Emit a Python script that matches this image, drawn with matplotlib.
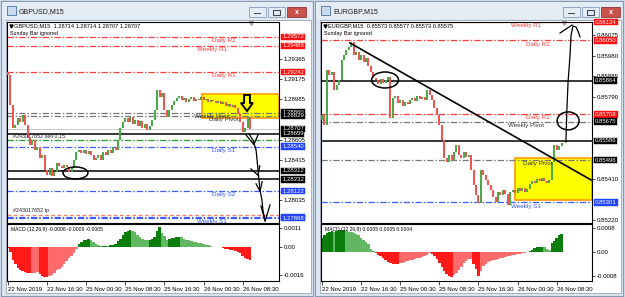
import numpy as np
import matplotlib
matplotlib.use("Agg")
import matplotlib.pyplot as plt
from matplotlib.patches import Rectangle, Ellipse, Polygon

plt.rcParams['font.family'] = ['Liberation Sans', 'DejaVu Sans']

W, H = 625, 297

# ---------------- GBPUSD, M15 ----------------
gu_open0 = 1.29243
gu_close = [1.29214, 1.28932, 1.28716, 1.28744, 1.28810, 1.28772, 1.28838, 1.28744, 1.28621, 1.28556,
            1.28603, 1.28509, 1.28537, 1.28433, 1.28461, 1.28320, 1.28273, 1.28339, 1.28264, 1.28302,
            1.28386, 1.28358, 1.28339, 1.28367, 1.28349, 1.28302, 1.28339, 1.28414, 1.28490, 1.28509,
            1.28480, 1.28509, 1.28471, 1.28499, 1.28461, 1.28414, 1.28433, 1.28461, 1.28414, 1.28490,
            1.28461, 1.28509, 1.28480, 1.28537, 1.28509, 1.28603, 1.28716, 1.28772, 1.28810, 1.28772,
            1.28819, 1.28753, 1.28791, 1.28734, 1.28781, 1.28716, 1.28753, 1.28697, 1.28734, 1.28791,
            1.28885, 1.29073, 1.29007, 1.29045, 1.28885, 1.28819, 1.28885, 1.28932, 1.28970, 1.28998,
            1.29017, 1.28979, 1.28998, 1.28960, 1.28988, 1.29007, 1.28970, 1.28988, 1.28979, 1.29007,
            1.28979, 1.28988, 1.28960, 1.28979, 1.28970, 1.28951, 1.28970, 1.28941, 1.28960, 1.28923,
            1.28941, 1.28913, 1.28932, 1.28904, 1.28847, 1.28772, 1.28678, 1.28716, 1.28819, 1.28707]
# MACD histogram, units of 1e-4
gu_macd = [-0.5, -3, -7.5, -10, -12.2, -13.2, -14, -14.5, -14.8, -15.1,
           -15, -14.8, -14.5, -15.5, -16.8, -17.4, -17.4, -17, -16, -14.8,
           -13.5, -12.5, -11.5, -10, -8, -6.5, -5, -3.5, -1, 1.5,
           3, 3.8, 4.3, 4.6, 4.2, 3, 2, 1.2, 0.6, 0.6,
           0.8, 0.6, 0.9, 1.2, 2, 3.5, 4.5, 7, 8.7, 9.5,
           9.8, 9.2, 8.5, 7, 5.8, 4.8, 4.2, 4.1, 4.1, 4.5,
           5.8, 9, 11.6, 8, 6.5, 4.2, 4.5, 5, 5.3, 5.6,
           5.8, 5.5, 4.8, 4.2, 3.8, 3.2, 2.9, 2.6, 2.4, 2.2,
           1.8, 1.3, 1.0, 0.6, 0.2, -0.2, -0.3, -0.2, -0.6, -1.0,
           -1.3, -1.5, -1.7, -2.2, -3.0, -3.5, -5, -6.4, -7, -7.5]
# (price, kind, label, has price tag)
gu_levels = [(1.29572, 'red', 'Daily R2', True),
             (1.29488, 'red', 'Weekly R1', True),
             (1.29242, 'red', 'Daily R1', True),
             (1.28860, 'pivot', 'Weekly Pivot', True),
             (1.28829, 'pivot', 'Daily Pivot', True),
             (1.28707, 'bid', '', True),
             (1.28659, 'black', '', True),
             (1.28603, 'order', '', False),
             (1.28540, 'blue', 'Daily S1', True),
             (1.28312, 'black', '', True),
             (1.28232, 'black', '', True),
             (1.28122, 'blue', 'Daily S2', True),
             (1.27900, 'tp', '', False),
             (1.27877, 'blue', '', True),
             (1.27868, 'blue', 'Weekly S1', True)]
gu_ticks = [1.29365, 1.29175, 1.28985, 1.28605, 1.28415, 1.28035]
gu_ylim = (1.27821, 1.29713)
gu_macd_ticks = [0.0011, 0.0, -0.0016]
gu_macd_ticklabels = ['0.0011', '0.00', '-0.0016']
gu_macd_ylim = (-0.00197, 0.00133)
gu_box = (79.4, 1.28810, 1.29035)          # start bar, low, high
gu_ellipses = [(27.6, 1.28292, 10.2, 0.00113)]
gu_arrow = [(96.6, 1.29026), (99.0, 1.29026), (99.0, 1.28951), (100.2, 1.28951),
            (97.8, 1.28875), (95.3, 1.28951), (96.6, 1.28951)]
gu_curve_x = [98.6, 100.2, 101.5, 101.9, 102.3, 102.7, 103.1, 103.9, 104.3, 105.2]
gu_curve_p = [1.28659, 1.28603, 1.28509, 1.28414, 1.28320, 1.28226, 1.28132, 1.28038, 1.27944, 1.27840]
gu_strokes = [[(97.4, 1.28650), (100.6, 1.28560), (102.3, 1.28650)],
              [(99.4, 1.28330), (102.3, 1.28270), (103.0, 1.28360)],
              [(101.5, 1.28190), (103.1, 1.28120), (104.0, 1.28210)],
              [(103.5, 1.27982), (105.2, 1.27840), (107.2, 1.27991)]]
gu_texts = [(1.28603, '#243017652 sell 0.15'), (1.27900, '#243017652 tp')]

# ---------------- EURGBP, M15 ----------------
eg_open0 = 0.85682
eg_close = [0.85705, 0.85659, 0.85913, 0.85890, 0.85904, 0.85821, 0.85844, 0.85867, 0.85960, 0.85983,
            0.86006, 0.86020, 0.86043, 0.85983, 0.85997, 0.85960, 0.85983, 0.85950, 0.85969, 0.85932,
            0.85904, 0.85876, 0.85867, 0.85849, 0.85872, 0.85853, 0.85867, 0.85881, 0.85692, 0.85784,
            0.85793, 0.85761, 0.85775, 0.85747, 0.85765, 0.85756, 0.85775, 0.85784, 0.85770, 0.85793,
            0.85779, 0.85789, 0.85775, 0.85821, 0.85798, 0.85775, 0.85738, 0.85705, 0.85659, 0.85590,
            0.85507, 0.85488, 0.85521, 0.85498, 0.85534, 0.85567, 0.85521, 0.85507, 0.85534, 0.85511,
            0.85521, 0.85451, 0.85382, 0.85336, 0.85299, 0.85451, 0.85428, 0.85405, 0.85382, 0.85359,
            0.85327, 0.85303, 0.85350, 0.85336, 0.85359, 0.85340, 0.85290, 0.85350, 0.85359, 0.85345,
            0.85368, 0.85354, 0.85368, 0.85350, 0.85364, 0.85387, 0.85400, 0.85391, 0.85410, 0.85400,
            0.85414, 0.85400, 0.85391, 0.85405, 0.85488, 0.85567, 0.85544, 0.85562, 0.85575]
eg_macd = [4.5, 5.5, 6.3, 6.7, 7.0, 6.8, 7.0, 7.2, 7.3, 7.3,
           7.1, 6.8, 6.5, 6.3, 6.0, 5.5, 4.7, 4.0, 3.3, 2.5,
           1.0, 0.2, -0.3, -1.0, -1.5, -2.0, -2.8, -3.5, -3.8, -4.0,
           -4.0, -4.0, -3.8, -3.7, -3.4, -3.1, -2.8, -2.7, -2.4, -2.1,
           -1.9, -1.7, -1.4, -1.0, -0.4, -0.6, -1.2, -2.5, -3.7, -5.0,
           -6.3, -7.3, -8.0, -8.3, -7.7, -7.0, -6.1, -5.0, -3.8, -3.0,
           -2.5, -2.2, -4.0, -5.8, -8.0, -6.5, -4.8, -4.0, -3.4, -3.0,
           -2.8, -2.6, -2.3, -2.1, -1.9, -1.7, -1.5, -1.2, -1.0, -0.9,
           -0.8, -0.7, -0.4, -0.2, 0.1, 0.4, 0.8, 1.2, 1.5, 1.7,
           1.7, 1.6, 1.0, 0.7, 3.0, 3.8, 4.7, 5.5, 6.0]
eg_levels = [(0.86134, 'red', 'Weekly R1', True),
             (0.86050, 'red', 'Daily R2', True),
             (0.85864, 'black', '', True),
             (0.85708, 'red', 'Daily R1', True),
             (0.85675, 'pivot', 'Weekly Pivot', True),
             (0.85586, 'black', '', True),
             (0.85496, 'pivot', 'Daily Pivot', True),
             (0.85301, 'blue', 'Weekly S1', True)]
eg_ticks = [0.86075, 0.85980, 0.85885, 0.85790, 0.85410, 0.85220]
eg_ylim = (0.85206, 0.86135)
eg_macd_ticks = [0.0008, 0.0, -0.0008]
eg_macd_ticklabels = ['0.0008', '0.00', '-0.0008']
eg_macd_ylim = (-0.000967, 0.000933)
eg_box = (79.0, 0.85313, 0.85507)
eg_ellipses = [(25.8, 0.85867, 11.0, 0.00074), (100.7, 0.85678, 9.0, 0.00083)]
eg_trend = [(11.46, 0.86038), (110.1, 0.85405)]
eg_curve_x = [99.8, 100.2, 100.7, 101.5, 101.9, 102.7, 103.9, 104.7, 105.6]
eg_curve_p = [0.85581, 0.85729, 0.85862, 0.85983, 0.86075, 0.86117, 0.86112, 0.86094, 0.86066]
eg_strokes = [[(97.4, 0.86084), (102.3, 0.86121)]]

time_ticks = [0, 16, 32, 48, 64, 80, 96]
time_labels = ['22 Nov 2019', '22 Nov 16:30', '25 Nov 00:30', '25 Nov 08:30',
               '25 Nov 16:30', '26 Nov 00:30', '26 Nov 08:30']
# weekly / daily label anchor bars
label_x = {'Weekly': 83.5, 'Daily': 88.4}

DD = (0, (5, 1.6, 1.2, 1.6))
styles = {'red': dict(color='#ff3b3b', ls=DD, lw=0.9),
          'pivot': dict(color='#777777', ls=DD, lw=0.9),
          'blue': dict(color='#3d5cff', ls=DD, lw=0.9),
          'black': dict(color='black', ls='-', lw=1.1),
          'order': dict(color='#22a022', ls=DD, lw=0.9),
          'tp': dict(color='#ff7a5a', ls=(0, (3, 2)), lw=0.9),
          'bid': dict(color='#c8c8c8', ls='-', lw=0.7)}
text_col = {'red': '#ff3b3b', 'pivot': '#333333', 'blue': '#3355ee'}
tag_col = {'red': '#ff1010', 'pivot': '#000000', 'black': '#000000', 'bid': '#000000', 'blue': '#2244ff'}

fig = plt.figure(figsize=(W / 100, H / 100), dpi=100)


def px_axes(x0, y0, x1, y1, z):
    return fig.add_axes([x0 / W, 1 - y1 / H, (x1 - x0) / W, (y1 - y0) / H], zorder=z)


bg = px_axes(0, 0, W, H, 0)
bg.set_xlim(0, W); bg.set_ylim(H, 0); bg.axis('off')
fg = px_axes(0, 0, W, H, 10)
fg.set_xlim(0, W); fg.set_ylim(H, 0); fg.axis('off')
bg.add_patch(Rectangle((0, 0), W, H, fc='#cfdcec', ec='none'))


def window(x0, x1, btn_r, title, head, macd_head):
    bg.add_patch(Rectangle((x0, 1), x1 - x0, 295, fc='#dce6f2', ec='#8799b3', lw=0.8))
    bg.add_patch(Rectangle((x0 + 1, 2), x1 - x0 - 2, 17, fc='#e4ecf6', ec='none'))
    bg.add_patch(Rectangle((x0 + 6, 6), 9, 9, fc='#c9daf0', ec='#5b7fae', lw=0.7))
    bg.text(x0 + 18, 12, title, fontsize=5.0, va='center', ha='left', color='#1e1e1e')
    bg.add_patch(Rectangle((btn_r - 19, 7), 19, 10, fc='#c8534c', ec='#8e3a36', lw=0.6))
    bg.text(btn_r - 9.5, 12, 'x', fontsize=5, color='white', ha='center', va='center', weight='bold')
    for bx in (btn_r - 38, btn_r - 57):
        bg.add_patch(Rectangle((bx, 7), 17, 10, fc='#e3ebf5', ec='#8a9bb5', lw=0.6))
    bg.add_patch(Rectangle((btn_r - 52, 12.5), 7, 1.5, fc='#404a58', ec='none'))
    bg.add_patch(Rectangle((btn_r - 33, 10), 7, 5, fc='none', ec='#404a58', lw=0.8))
    bg.add_patch(Rectangle((x0 + 5, 20), x1 - x0 - 7, 273, fc='white', ec='#9aa5b3', lw=0.6))
    fg.plot(x0 + 9.5, 25.5, marker='v', ms=2.2, color='black')
    fg.text(x0 + 13, 25.5, head, fontsize=4.1, va='center', ha='left')
    fg.text(x0 + 9, 33.5, 'Sunday Bar ignored', fontsize=3.9, va='center', ha='left')
    fg.text(x0 + 10, 229, macd_head, fontsize=3.6, va='center', ha='left')


def macd_colors(vals):
    cols = []
    prev = vals[0]
    for v in vals:
        if v >= 0:
            cols.append('#0a7d0a' if v >= prev else '#62b862')
        else:
            cols.append('#ff1a1a' if v <= prev else '#ff6a6a')
        prev = v
    return cols


def chart(x0, x1, open0, closes, macd, levels, ticks, ylim, mticks, mlabels, mylim, box):
    ax = px_axes(x0, 22, x1, 223, 2)
    mx = px_axes(x0, 224, x1, 281, 2)
    xl = (-1 / 2.444, (x1 - x0 - 1) / 2.444)
    for a in (ax, mx):
        a.set_facecolor('none')
        a.set_xlim(*xl)
        for s in a.spines.values():
            s.set_linewidth(0.8)
            s.set_color('black')
        a.yaxis.tick_right()
        a.tick_params(axis='y', length=2, width=0.5, pad=1.5, labelsize=4.4)
    ax.set_ylim(*ylim)
    ax.set_xticks([])
    ax.set_yticks(ticks)
    ax.set_yticklabels(['%.5f' % t for t in ticks])

    # yellow zone
    ax.add_patch(Rectangle((box[0], box[1]), xl[1] - box[0], box[2] - box[1],
                           fc='#ffff00', ec='#ff9a00', lw=1.2, zorder=1))
    for p, kind, lab, tag in levels:
        ax.axhline(p, zorder=2, **styles[kind])
        if lab:
            ax.annotate(lab, (label_x[lab.split()[0]], p), xytext=(0, -0.8),
                        textcoords='offset points', ha='center', va='top',
                        fontsize=4.5, color=text_col[kind], zorder=6)
        if tag:
            ax.annotate('%.5f' % p, (1, p), xycoords=('axes fraction', 'data'),
                        xytext=(2.2, 0), textcoords='offset points', ha='left', va='center',
                        fontsize=4.3, color='white', annotation_clip=False, zorder=8,
                        bbox=dict(boxstyle='square,pad=0.12', fc=tag_col[kind], ec=tag_col[kind], lw=0.3))
    # candles
    c = np.array(closes)
    o = np.r_[open0, c[:-1]]
    x = np.arange(len(c))
    up = c >= o
    ax.vlines(x[up], o[up], c[up], color='#45a845', lw=1.4, zorder=4)
    ax.vlines(x[~up], c[~up], o[~up], color='#f25050', lw=1.4, zorder=4)
    ax.plot(0.897, 0.993, marker='v', ms=3, color='#a8a8a8', transform=ax.transAxes, clip_on=False)

    mv = np.array(macd) * 1e-4
    mx.bar(np.arange(len(mv)), mv, width=1.0, color=macd_colors(list(mv)), linewidth=0)
    mx.set_ylim(*mylim)
    mx.set_yticks(mticks)
    mx.set_yticklabels(mlabels)
    mx.set_xticks(time_ticks)
    mx.set_xticklabels(time_labels, ha='left')
    mx.tick_params(axis='x', length=3, width=0.5, pad=1.5, labelsize=4.3)
    return ax, mx


window(1, 313, 306, 'GBPUSD,M15', 'GBPUSD,M15  1.28714 1.28714 1.28707 1.28707',
       'MACD (12,26,9) -0.0006 -0.0006 -0.0005')
window(315, 623, 620, 'EURGBP,M15', 'EURGBP,M15  0.85573 0.85577 0.85573 0.85575',
       'MACD (12,26,9) 0.0005 0.0005 0.0004')

ax1, m1 = chart(7, 279, gu_open0, gu_close, gu_macd, gu_levels, gu_ticks, gu_ylim,
                gu_macd_ticks, gu_macd_ticklabels, gu_macd_ylim, gu_box)
ax2, m2 = chart(321, 592, eg_open0, eg_close, eg_macd, eg_levels, eg_ticks, eg_ylim,
                eg_macd_ticks, eg_macd_ticklabels, eg_macd_ylim, eg_box)

# hand drawings, order texts
for p, s in gu_texts:
    ax1.annotate(s, (2, p), xytext=(0, 0.8), textcoords='offset points', ha='left', va='bottom',
                 fontsize=3.9, color='#222222', zorder=6)
for ax, ells in ((ax1, gu_ellipses), (ax2, eg_ellipses)):
    for ex, ey, ew, eh in ells:
        ax.add_patch(Ellipse((ex, ey), ew, eh, fill=False, ec='black', lw=1.1, zorder=7))
ax1.add_patch(Polygon(gu_arrow, closed=True, fc='none', ec='black', lw=1.4, zorder=7))
ax1.plot(gu_curve_x, gu_curve_p, color='black', lw=0.9, zorder=7, clip_on=False)
ax2.plot(eg_curve_x, eg_curve_p, color='black', lw=0.9, zorder=7)
for ax, strokes in ((ax1, gu_strokes), (ax2, eg_strokes)):
    for st in strokes:
        ax.plot([q[0] for q in st], [q[1] for q in st], color='black', lw=0.9, zorder=7, clip_on=False)
ax2.plot([q[0] for q in eg_trend], [q[1] for q in eg_trend], color='black', lw=1.2, zorder=5)

fig.savefig('out.png', dpi=100)
